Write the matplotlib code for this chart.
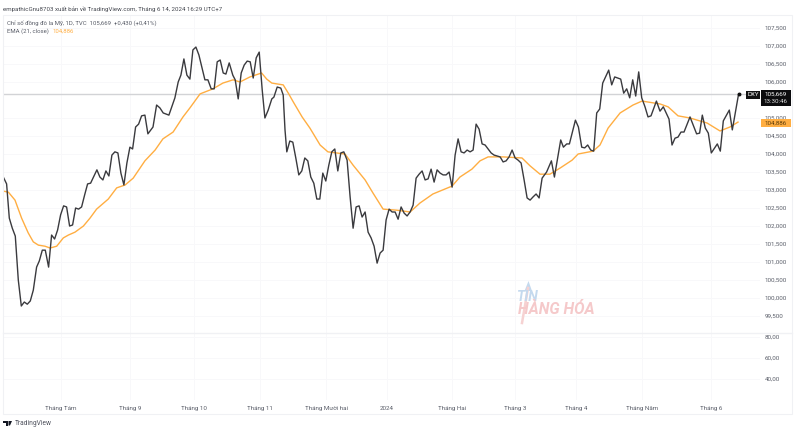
import matplotlib
matplotlib.use("Agg")
import matplotlib.pyplot as plt
from matplotlib.patches import Rectangle, Polygon

plt.rcParams['font.family'] = ['Roboto', 'DejaVu Sans']

dxy_bar = [
    0.1, 1.2, 2.1, 3.1, 4.1, 5.1, 6.1, 7.1, 8.1, 9.1,
    10.1, 11.2, 12.1, 13.1, 14.1, 15.2, 16.2, 17.2, 18.2, 19.2,
    20.2, 21.2, 22.2, 23.2, 24.2, 25.2, 26.2, 27.2, 28.2, 29.2,
    31.3, 32.3, 33.3, 34.3, 35.3, 36.3, 37.3, 38.3, 39.3, 40.3,
    41.3, 42.3, 43.2, 44.2, 45.2, 46.2, 47.3, 48.3, 50.0, 51.2,
    52.3, 53.4, 55.3, 57.3, 58.4, 59.3, 60.3, 61.3, 62.3, 63.3,
    64.3, 65.3, 67.3, 68.3, 69.4, 70.4, 71.4, 72.4, 73.4, 74.3,
    75.4, 76.6, 77.4, 78.4, 79.4, 80.4, 81.4, 82.4, 83.4, 84.4,
    85.4, 86.4, 87.3, 88.4, 89.6, 90.3, 91.4, 92.6, 93.4, 94.0,
    94.6, 95.6, 96.6, 97.6, 98.6, 99.6, 100.6, 101.6, 102.6, 103.6,
    104.6, 105.6, 106.6, 107.6, 108.6, 109.6, 110.6, 111.6, 112.6, 113.6,
    114.7, 115.7, 116.7, 117.7, 118.7, 119.7, 120.7, 121.7, 122.7, 123.7,
    124.7, 125.7, 126.7, 127.7, 128.7, 129.7, 130.7, 131.7, 132.7, 133.7,
    134.7, 135.7, 136.7, 137.7, 138.7, 139.7, 140.7, 141.7, 142.7, 143.7,
    144.7, 145.7, 146.7, 147.7, 148.7, 149.7, 150.7, 151.7, 152.7, 153.7,
    154.7, 155.7, 156.7, 157.7, 158.7, 159.7, 160.7, 161.7, 162.7, 163.7,
    165.7, 166.7, 167.7, 168.7, 169.7, 170.7, 171.7, 172.7, 173.7, 174.7,
    175.7, 176.7, 177.7, 178.7, 179.7, 181.2, 182.8, 183.8, 185.9, 186.8,
    187.9, 188.8, 190.8, 191.8, 192.9, 193.9, 194.9, 195.9, 196.9, 197.9,
    198.9, 199.9, 201.9, 202.9, 203.9, 205.9, 206.9, 207.9, 208.9, 209.9,
    210.9, 211.9, 212.9, 214.0, 215.0, 216.0, 217.8, 219.0, 220.1, 222.0,
    223.0, 224.0, 225.0, 226.0, 227.0, 229.0, 231.2, 232.2, 233.1, 234.1,
    235.1, 236.1, 238.1, 239.1, 240.1, 242.1, 243.1, 245.2,
]
dxy_close = [
    103.36, 103.17, 102.22, 101.94, 101.72, 100.50, 99.78, 99.89, 99.83, 99.92,
    100.22, 100.86, 101.03, 101.33, 101.33, 100.86, 101.75, 101.64, 101.89, 102.31,
    102.56, 102.53, 102.00, 102.03, 102.50, 102.47, 102.53, 102.86, 103.17, 103.19,
    103.56, 103.36, 103.28, 103.53, 103.39, 103.97, 104.06, 104.03, 103.47, 103.14,
    103.75, 104.19, 104.14, 104.75, 104.83, 105.06, 105.08, 104.56, 104.75, 105.36,
    105.28, 105.14, 105.08, 105.56, 106.00, 106.19, 106.64, 106.19, 106.08, 106.89,
    106.97, 106.75, 106.06, 106.06, 105.81, 105.81, 106.56, 106.61, 106.25, 106.22,
    106.53, 106.19, 106.06, 105.53, 106.25, 106.47, 106.58, 106.56, 106.11, 106.67,
    106.83, 105.78, 105.00, 105.22, 105.53, 105.58, 105.86, 105.83, 105.64, 104.67,
    104.06, 104.36, 104.33, 103.89, 103.42, 103.53, 103.89, 103.81, 103.36, 103.19,
    102.75, 102.75, 103.47, 103.25, 103.69, 104.06, 104.14, 103.53, 104.03, 104.06,
    103.83, 102.81, 101.94, 102.53, 102.56, 102.25, 102.39, 101.83, 101.67, 101.44,
    100.97, 101.25, 101.33, 102.17, 102.47, 102.39, 102.39, 102.19, 102.53, 102.36,
    102.28, 102.39, 102.58, 103.33, 103.44, 103.53, 103.28, 103.31, 103.58, 103.22,
    103.56, 103.47, 103.42, 103.42, 103.50, 103.08, 103.97, 104.42, 104.06, 104.03,
    104.11, 104.06, 104.11, 104.83, 104.69, 104.28, 104.25, 104.14, 104.03, 103.97,
    103.92, 103.78, 103.81, 103.92, 104.11, 103.89, 103.83, 103.75, 103.28, 102.78,
    102.72, 102.81, 102.89, 102.78, 103.33, 103.50, 103.81, 103.36, 104.39, 104.19,
    104.28, 104.28, 104.94, 104.75, 104.19, 104.17, 104.25, 104.11, 104.08, 105.14,
    105.25, 105.97, 106.33, 105.92, 106.14, 106.08, 105.69, 105.81, 105.56, 106.06,
    105.61, 106.28, 105.56, 105.31, 105.03, 105.06, 105.47, 105.19, 105.31, 104.97,
    104.25, 104.44, 104.47, 104.61, 104.61, 105.03, 104.56, 104.58, 105.08, 104.72,
    104.58, 104.03, 104.28, 104.08, 104.92, 105.22, 104.67, 105.669,
]

ema_bar = [
    0.1, 1.8, 4.0, 6.2, 8.4, 10.1, 11.8, 14.0, 15.7, 17.9,
    20.1, 21.8, 24.0, 26.8, 29.0, 31.2, 35.1, 37.9, 40.7, 43.4,
    47.3, 50.7, 53.3, 56.7, 60.0, 62.3, 65.7, 70.0, 73.3, 76.7,
    79.0, 82.3, 86.2, 87.9, 89.6, 91.8, 93.4, 95.1, 96.8, 99.7,
    102.3, 105.7, 108.3, 114.0, 116.7, 120.7, 123.3, 126.7, 131.3, 135.7,
    139.0, 143.3, 149.7, 152.3, 156.3, 159.0, 161.7, 166.7, 173.0, 175.7,
    179.0, 182.3, 185.7, 189.7, 191.7, 196.7, 199.0, 201.7, 205.7, 210.0,
    213.0, 219.0, 221.7, 225.0, 229.0, 234.7, 239.0, 242.3, 245.0,
]
ema_21 = [
    102.97, 102.94, 102.72, 102.22, 101.81, 101.56, 101.47, 101.44, 101.39, 101.44,
    101.67, 101.75, 101.83, 102.00, 102.22, 102.47, 102.75, 103.06, 103.14, 103.33,
    103.81, 104.11, 104.42, 104.61, 105.03, 105.28, 105.67, 105.81, 105.97, 106.06,
    106.00, 106.14, 106.25, 106.08, 105.97, 105.94, 105.92, 105.69, 105.44, 105.03,
    104.72, 104.25, 104.06, 104.00, 103.69, 103.28, 102.92, 102.47, 102.44, 102.39,
    102.64, 102.89, 103.11, 103.36, 103.58, 103.81, 103.92, 103.92, 103.89, 103.67,
    103.44, 103.44, 103.61, 103.83, 104.00, 104.08, 104.25, 104.72, 105.14, 105.36,
    105.47, 105.39, 105.31, 105.06, 105.00, 104.86, 104.64, 104.75, 104.886,
]

month_bars = [19.3, 42.3, 63.5, 85.5, 107.7, 128.0, 149.7, 170.7, 191.0, 213.0, 236.0]
month_labels = ['Tháng Tám', 'Tháng 9', 'Tháng 10', 'Tháng 11', 'Tháng Mười hai', '2024',
                'Tháng Hai', 'Tháng 3', 'Tháng 4', 'Tháng Năm', 'Tháng 6']
price_ticks = [99.5, 100, 100.5, 101, 101.5, 102, 102.5, 103, 103.5, 104, 104.5,
               105, 106, 106.5, 107, 107.5]
price_labels = ['99,500', '100,000', '100,500', '101,000', '101,500', '102,000', '102,500',
                '103,000', '103,500', '104,000', '104,500', '105,000', '106,000',
                '106,500', '107,000', '107,500']
lower_ticks = [40, 60, 80]
lower_labels = ['40,00', '60,00', '80,00']

last_close = 105.669
last_ema = 104.886

W, H = 798, 442
GRID = '#f8f8fa'
FRAME = '#f0f1f4'
TEXT = '#5a5e69'
ORANGE = '#ffae42'


def px_axes(fig, left, top, right, bottom):
    """Add axes placed by its pixel box in the picture."""
    return fig.add_axes([left / W, 1 - bottom / H, (right - left) / W, (bottom - top) / H])


def style_pane(ax):
    ax.set_xlim(0, 252.33)
    ax.yaxis.tick_right()
    ax.tick_params(length=0, labelsize=4.5, labelcolor=TEXT, pad=3.5)
    ax.grid(True, color=GRID, linewidth=0.7)
    ax.set_axisbelow(True)
    for s in ax.spines.values():
        s.set_visible(False)
    ax.patch.set_alpha(0)
    ax.set_xticks(month_bars)


def add_box(fig, x0, y0, x1, y1, color):
    fig.add_artist(Rectangle((x0 / W, 1 - y1 / H), (x1 - x0) / W, (y1 - y0) / H,
                             transform=fig.transFigure, facecolor=color, edgecolor='none'))


def main():
    fig = plt.figure(figsize=(W / 100, H / 100), dpi=100, facecolor='white')

    # outer frame and pane separator
    fig.add_artist(Rectangle((3 / W, 1 - 414 / H), 789 / W, 399 / H, transform=fig.transFigure,
                             facecolor='none', edgecolor=FRAME, linewidth=0.8))
    fig.add_artist(plt.Line2D([3 / W, 792 / W], [1 - 333 / H, 1 - 333 / H], color=FRAME,
                              linewidth=1.0, transform=fig.transFigure))

    ax = px_axes(fig, 3, 15, 760, 333)
    style_pane(ax)
    ax.set_ylim(99.03, 107.86)
    ax.set_yticks(price_ticks)
    ax.set_yticklabels(price_labels)
    ax.tick_params(axis='x', labelbottom=False)

    ax.axhline(last_close, color='#d2d3d6', linewidth=1.0, zorder=1)
    ax.plot(ema_bar, ema_21, color=ORANGE, linewidth=1.0, zorder=2)
    ax.plot(dxy_bar, dxy_close, color='#3a3a3e', linewidth=1.0, zorder=3)
    ax.plot(dxy_bar[-1], dxy_close[-1], 'o', color='#111111', markersize=1.8, zorder=4)

    low = px_axes(fig, 3, 333, 760, 400)
    style_pane(low)
    low.set_ylim(19.8, 83.8)
    low.set_yticks(lower_ticks)
    low.set_yticklabels(lower_labels)
    low.set_xticklabels(month_labels)
    low.tick_params(axis='x', pad=4)

    # header and legend
    fig.text(3 / W, 1 - 9.5 / H,
             'empathicGnu8703 xuất bản về TradingView.com, Tháng 6 14, 2024 16:29 UTC+7',
             fontsize=4.4, color='#44474f', va='center')
    fig.text(7 / W, 1 - 23 / H, 'Chỉ số đồng đô la Mỹ, 1D, TVC  105,669  +0,430 (+0,41%)',
             fontsize=4.35, color=TEXT, va='center')
    fig.text(7 / W, 1 - 31.5 / H, 'EMA (21, close)', fontsize=4.35, color=TEXT, va='center')
    fig.text(52.5 / W, 1 - 31.5 / H, '104,886', fontsize=4.35, color=ORANGE, va='center')

    # price tags on the right scale
    add_box(fig, 746, 91, 760, 99, '#111111')
    fig.text(753 / W, 1 - 95 / H, 'DXY', fontsize=4.4, color='white', ha='center', va='center')
    add_box(fig, 761, 90, 791, 106, '#0c0c0e')
    fig.text(776 / W, 1 - 94.5 / H, '105,669', fontsize=4.5, color='white', ha='center', va='center')
    fig.text(776 / W, 1 - 101.5 / H, '13:30:46', fontsize=4.5, color='#dddddd', ha='center', va='center')
    add_box(fig, 761, 119, 791, 127, ORANGE)
    fig.text(776 / W, 1 - 123 / H, '104,886', fontsize=4.5, color='#5a3a08', ha='center', va='center')

    # watermark
    fig.add_artist(plt.Line2D([522 / W, 528 / W], [1 - 323 / H, 1 - 288 / H], color='#f6d2d2',
                              linewidth=1.8, transform=fig.transFigure))
    fig.add_artist(Polygon([(528.5 / W, 1 - 281 / H), (524.5 / W, 1 - 291 / H), (532 / W, 1 - 291 / H)],
                           transform=fig.transFigure, facecolor='#c4d9ee', edgecolor='none'))
    fig.text(527 / W, 1 - 297 / H, 'TIN', fontsize=10, color='#c4d9ee', fontweight='bold',
             fontstyle='italic', ha='center', va='center')
    fig.text(556.5 / W, 1 - 310 / H, 'HÀNG HÓA', fontsize=11.2, color='#f5c9ca', fontweight='bold',
             fontstyle='italic', ha='center', va='center')

    # footer logo
    fig.add_artist(Polygon([(3 / W, 1 - 421 / H), (8 / W, 1 - 421 / H), (8 / W, 1 - 425.5 / H),
                            (5.5 / W, 1 - 425.5 / H), (5.5 / W, 1 - 423 / H), (3 / W, 1 - 423 / H)],
                           transform=fig.transFigure, facecolor='#131722', edgecolor='none'))
    fig.add_artist(Polygon([(8.5 / W, 1 - 421 / H), (12 / W, 1 - 421 / H), (10 / W, 1 - 425.5 / H),
                            (8.5 / W, 1 - 425.5 / H)],
                           transform=fig.transFigure, facecolor='#131722', edgecolor='none'))
    fig.text(14.5 / W, 1 - 423.3 / H, 'TradingView', fontsize=4.8, color='#50535e', va='center')

    fig.savefig('out.png', dpi=100)


if __name__ == "__main__":
    main()
